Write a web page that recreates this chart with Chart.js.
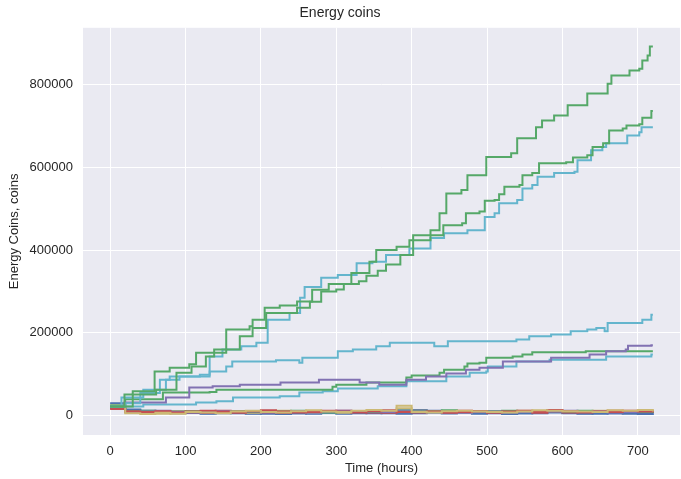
<!DOCTYPE html>
<html>
<head>
<meta charset="utf-8">
<script src="https://cdn.jsdelivr.net/npm/chart.js@4"></script>
<style>
  html, body { margin: 0; padding: 0; background: #fff; }
  #wrap { width: 681px; height: 479px; }
</style>
</head>
<body>
<div id="wrap"><canvas id="coinsChart" width="681" height="479"></canvas></div>
<script>
// energy coins in thousands; each growing line has its own step hours

const greenTopH = [0,19,30,59,79,105,114,154,185,189,205,225,248,268,290,320,344,353,380,397,425,
  437,446,466,474,494,499,532,540,565,573,589,607,629,633,653,660,665,682,689,702,706,713,716,720];
const greenTopK = [22,51,59,107,116,124,152,208,216,232,261,266,276,304,318,345,372,400,408,424,448,
  489,537,545,581,581,625,634,670,697,713,725,750,750,778,778,802,822,822,834,838,858,870,892,892];

const greenMidH = [0,30,61,88,108,127,138,172,189,207,248,265,280,300,310,330,340,355,366,385,402,
  442,467,472,490,497,510,516,523,543,547,560,569,605,614,633,640,654,662,680,685,702,706,716,718,720];
const greenMidK = [22,51,63,104,119,143,160,192,212,248,261,275,300,305,318,325,338,350,365,388,436,
  460,465,489,493,519,521,535,553,557,581,586,610,612,624,629,649,658,689,694,701,704,720,720,736,736];

const cyanMidH = [0,15,44,74,79,119,132,149,174,194,209,238,252,258,280,302,320,327,348,366,397,425,
  443,474,486,497,510,516,540,547,560,567,589,616,620,631,638,653,658,682,686,702,705,720];
const cyanMidK = [22,44,63,87,95,99,143,160,168,176,232,248,285,311,333,340,340,368,372,388,404,429,
  441,448,448,480,489,513,521,549,557,577,586,589,617,617,641,649,658,658,677,685,697,697];

const cyanLowH = [0,20,40,66,92,132,154,162,220,251,255,295,302,322,353,371,419,430,448,534,539,
  556,585,611,633,645,656,660,702,706,718,720];
const cyanLowK = [22,30,55,87,95,107,119,131,134,128,140,140,156,160,168,176,176,168,180,180,184,
  192,196,204,208,212,204,224,224,232,244,244];

const purpleLowH = [0,19,74,105,136,172,226,277,320,331,357,393,419,446,472,490,521,585,636,658,
  684,687,718,720];
const purpleLowK = [22,32,44,68,71,75,80,87,87,80,75,87,95,102,111,116,131,140,148,156,
  160,169,170,170];

const greenLowH = [0,20,70,132,141,251,295,300,340,393,400,437,443,470,474,490,499,534,547,560,631,720];
const greenLowK = [22,40,56,57,63,63,70,75,80,92,97,104,111,119,126,128,140,143,148,153,156,156];

const cyanFlatH = [0,44,114,141,163,225,251,282,302,355,393,446,477,499,501,539,583,658,718,720];
const cyanFlatK = [22,27,32,35,44,47,56,59,66,71,83,95,104,107,119,131,135,143,148,148];

// the flat lines near zero, sampled every 20 hours
const lowHours = [0,20,40,60,80,100,120,140,160,180,200,220,240,260,280,300,320,340,360,
  380,400,420,440,460,480,500,520,540,560,580,600,620,640,660,680,700,720];
const blueA = [22,12,8,9,6,7,5,6,8,7,5,4,6,9,7,5,6,8,6,5,6,12,9,7,5,6,4,6,8,10,6,5,7,6,5,4,5];
const redA = [20,10,9,11,8,10,12,9,7,11,13,10,8,9,12,10,8,11,13,9,8,10,7,9,11,8,10,12,9,14,11,8,10,9,12,10,8];
const yellowA = [24,6,4,7,5,9,8,6,10,12,9,8,11,13,10,9,12,14,12,24,9,8,11,12,10,9,8,10,13,12,11,10,9,13,12,14,10];
const blueB = [18,13,10,8,9,7,6,10,8,6,9,11,7,5,8,10,9,7,8,13,14,11,6,8,7,9,10,7,6,8,9,11,7,6,8,7,6];
const purpleA = [21,9,10,12,9,8,11,10,9,10,8,9,11,8,10,12,11,10,9,11,10,9,8,7,9,10,8,9,11,10,12,9,10,8,9,11,10];
const yellowB = [23,8,6,5,7,10,11,8,9,7,10,12,9,8,11,7,9,10,10,18,12,11,9,8,10,11,9,12,10,13,11,9,12,10,11,12,13];
const redB = [16,11,7,9,10,8,7,12,11,9,8,7,10,11,9,12,10,8,7,9,11,10,9,12,10,8,11,9,7,10,8,9,11,12,10,9,11];
const greenA = [25,10,12,9,10,11,9,8,10,9,11,10,12,9,8,10,11,9,10,12,11,10,13,9,10,11,12,10,9,11,10,12,9,10,11,9,10];
const blueC = [30,15,12,10,8,7,9,8,6,5,7,8,6,7,9,8,7,6,9,10,8,7,6,9,8,7,5,6,8,12,7,6,5,7,8,6,5];

const xTicks = [0,100,200,300,400,500,600,700];
const yTicks = [0,200000,400000,600000,800000];

const pal = {
  blue: '#4C72B0', green: '#55A868', red: '#C44E52',
  purple: '#8172B2', yellow: '#CCB974', cyan: '#64B5CD'
};

const series = [
  [greenTopH, greenTopK, pal.green], [greenMidH, greenMidK, pal.green], [cyanMidH, cyanMidK, pal.cyan],
  [cyanLowH, cyanLowK, pal.cyan], [purpleLowH, purpleLowK, pal.purple], [greenLowH, greenLowK, pal.green],
  [cyanFlatH, cyanFlatK, pal.cyan],
  [lowHours, yellowA, pal.yellow], [lowHours, redA, pal.red], [lowHours, purpleA, pal.purple],
  [lowHours, greenA, pal.green], [lowHours, yellowB, pal.yellow], [lowHours, redB, pal.red],
  [lowHours, blueB, pal.blue], [lowHours, blueA, pal.blue], [lowHours, blueC, pal.blue]
];

const datasets = series.map(([hrs, vals, color]) => ({
  data: vals.map((v, i) => ({ x: hrs[i], y: v * 1000 })),
  borderColor: color,
  borderWidth: 2,
  pointRadius: 0,
  stepped: 'before',
  fill: false
}));

const areaBg = {
  id: 'areaBg',
  beforeDraw(chart) {
    const { ctx, chartArea: a } = chart;
    ctx.save();
    ctx.fillStyle = '#EAEAF2';
    ctx.fillRect(a.left, a.top, a.right - a.left, a.bottom - a.top);
    ctx.restore();
  }
};

const txt = '#262626';
const font = 'Liberation Sans, Arial, sans-serif';

new Chart(document.getElementById('coinsChart'), {
  type: 'line',
  data: { datasets },
  plugins: [areaBg],
  options: {
    responsive: false,
    animation: false,
    layout: { padding: { left: 0, right: 1, top: 0, bottom: 0 } },
    plugins: {
      legend: { display: false },
      tooltip: { enabled: false },
      title: {
        display: true,
        text: 'Energy coins',
        color: txt,
        font: { family: font, size: 14, weight: 'normal' },
        padding: { top: 5, bottom: 6 }
      }
    },
    scales: {
      x: {
        type: 'linear',
        min: -36, max: 756,
        afterBuildTicks: ax => { ax.ticks = xTicks.map(v => ({ value: v })); },
        afterFit: ax => { ax.height = 44; },
        grid: { color: '#ffffff', lineWidth: 1, drawTicks: false },
        border: { display: false },
        ticks: { color: txt, font: { family: font, size: 13 }, padding: 9, maxRotation: 0 },
        title: {
          display: true, text: 'Time (hours)', color: txt,
          font: { family: font, size: 13 }, padding: { top: 0, bottom: 3 }
        }
      },
      y: {
        type: 'linear',
        min: -46600, max: 937000,
        afterBuildTicks: ax => { ax.ticks = yTicks.map(v => ({ value: v })); },
        afterFit: ax => { ax.width = 83; },
        grid: { color: '#ffffff', lineWidth: 1, drawTicks: false },
        border: { display: false },
        ticks: { color: txt, font: { family: font, size: 13 }, padding: 10, callback: v => String(v) },
        title: {
          display: true, text: 'Energy Coins, coins', color: txt,
          font: { family: font, size: 13 }, padding: { top: 7, bottom: 0 }
        }
      }
    }
  }
});
</script>
</body>
</html>
